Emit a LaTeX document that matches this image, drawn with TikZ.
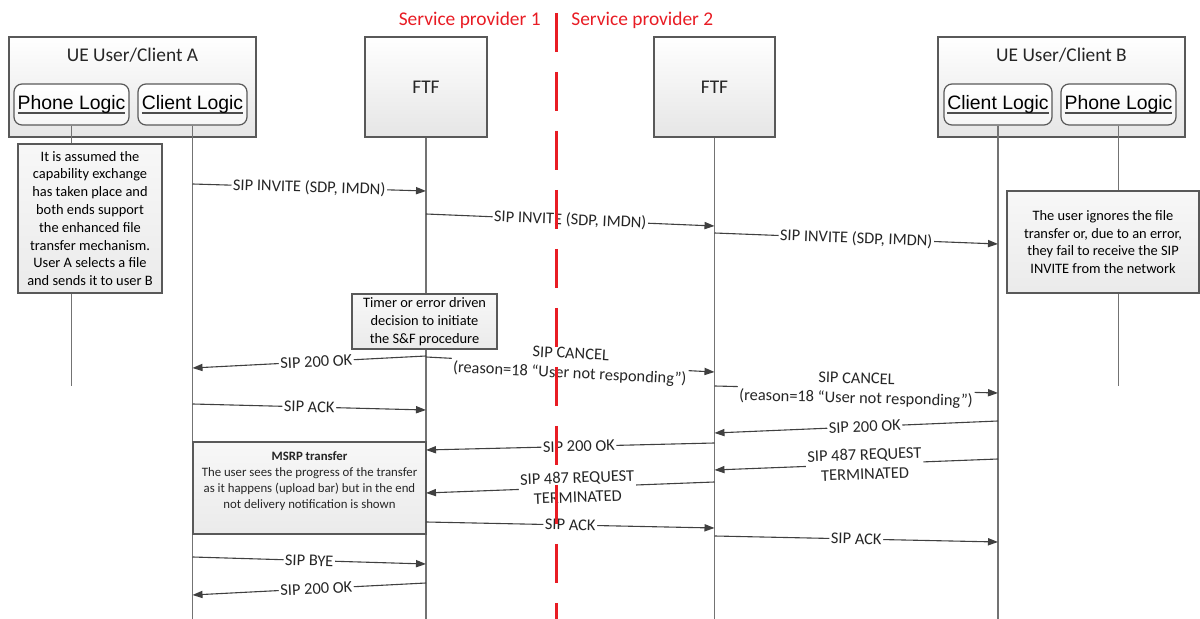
\documentclass[tikz,border=0pt]{standalone}
\usepackage{fontspec}
\setmainfont{Carlito}
\newfontfamily\arialfont{Liberation Sans}
\newsavebox{\logicsave}
\newcommand{\ulogic}[1]{\sbox{\logicsave}{#1}\rlap{\color{black!70}\rule[-2pt]{\wd\logicsave}{0.7pt}}\usebox{\logicsave}}
\usetikzlibrary{arrows.meta, positioning}
\definecolor{sred}{RGB}{232,28,36}

\tikzset{
  hdrbox/.style={draw=black!65, line width=0.7pt, top color=white, bottom color=black!10,
    minimum width=#1, minimum height=50pt, inner sep=0pt},
  logicbox/.style={draw=black!65, line width=0.6pt, rounded corners=4pt, top color=white,
    bottom color=black!4, minimum width=#1, minimum height=20.5pt, inner sep=0pt,
    font=\arialfont\fontsize{9.7}{11}\selectfont},
  notebox/.style={draw=black!65, line width=0.6pt, top color=black!3, bottom color=black!8,
    align=center, inner sep=0pt, font=\fontsize{7.2}{8.9}\selectfont},
  title/.style={font=\fontsize{9.7}{11}\selectfont, text=black!85},
  life/.style={draw=black!55, line width=0.6pt},
  msg/.style={draw=black!75, line width=0.55pt, -{Triangle[length=5pt,width=3.6pt]}},
  lbl/.style={fill=white, sloped, inner sep=0.8pt, align=center, text=black!85,
    font=\fontsize{8.2}{9.8}\selectfont},
  provider/.style={text=sred, inner sep=0pt, font=\fontsize{9.7}{11}\selectfont}
}

\begin{document}
\begin{tikzpicture}[x=0.5pt, y=-0.5pt]
\useasboundingbox (0,0) rectangle (1200,619);

% lifelines
\coordinate (bottom) at (0,619);
\coordinate (stopph) at (0,386);

\node[hdrbox=123.5pt] (boxA) at (132.5,87) {};
\node[title] (titleA) at (132.5,55) {UE User/Client A};
\node[logicbox=57.5pt] (phA) at (71.5,104.5) {\ulogic{Phone Logic}};
\node[logicbox=54.5pt] (clA) at (192.5,104.5) {\ulogic{Client Logic}};

\node[hdrbox=61pt, title] (ftf1) at (426,87) {FTF};
\node[hdrbox=60.5pt, title] (ftf2) at (714.5,87) {FTF};

\node[hdrbox=123.5pt] (boxB) at (1061.5,87) {};
\node[title] (titleB) at (1061.5,55) {UE User/Client B};
\node[logicbox=54pt] (clB) at (998,104.5) {\ulogic{Client Logic}};
\node[logicbox=57.5pt] (phB) at (1118.5,104.5) {\ulogic{Phone Logic}};

\draw[life] (phA) -- (phA |- stopph);
\draw[life] (clA) -- (clA |- bottom);
\draw[life] (ftf1) -- (ftf1 |- bottom);
\draw[life] (ftf2) -- (ftf2 |- bottom);
\draw[life] (clB) -- (clB |- bottom);
\draw[life] (phB) -- (phB |- stopph);

% notes
\node[notebox, minimum width=72pt, minimum height=74.5pt] (noteA) at (90,218.5)
  {It is assumed the\\capability exchange\\has taken place and\\both ends support\\the enhanced file\\transfer mechanism.\\User A selects a file\\and sends it to user B};
\node[notebox, minimum width=96pt, minimum height=51pt] (noteB) at (1103,242)
  {The user ignores the file\\transfer or, due to an error,\\they fail to receive the SIP\\INVITE from the network};
\node[notebox, minimum width=116.5pt, minimum height=46pt] (msrp) at (309.5,488) {};
\node[align=center, font=\fontsize{6.4}{8}\selectfont, text=black!85] (msrptext) at (309.5,481)
  {\textbf{MSRP transfer}\\The user sees the progress of the transfer\\as it happens (upload bar) but in the end\\not delivery notification is shown};

% messages
\draw[msg] (clA |- 0,184) -- node[lbl]{SIP INVITE (SDP, IMDN)} (ftf1 |- 0,191);
\draw[msg] (ftf1 |- 0,214) -- node[lbl]{SIP INVITE (SDP, IMDN)} (ftf2 |- 0,226);
\draw[msg] (ftf2 |- 0,233) -- node[lbl]{SIP INVITE (SDP, IMDN)} (clB |- 0,244);
\draw[msg] (ftf1 |- 0,356) -- node[lbl, pos=0.47]{SIP 200 OK} (clA |- 0,368);
\draw[msg] (ftf1 |- 0,357) -- node[lbl]{SIP CANCEL\\(reason=18 “User not responding”)} (ftf2 |- 0,372);
\draw[msg] (ftf2 |- 0,386) -- node[lbl]{SIP CANCEL\\(reason=18 “User not responding”)} (clB |- 0,393);
\draw[msg] (clA |- 0,404) -- node[lbl]{SIP ACK} (ftf1 |- 0,410);
\draw[msg] (clB |- 0,421) -- node[lbl, pos=0.47]{SIP 200 OK} (ftf2 |- 0,433);
\draw[msg] (ftf2 |- 0,443) -- node[lbl, pos=0.47]{SIP 200 OK} (ftf1 |- 0,450);
\draw[msg] (clB |- 0,459) -- node[lbl, pos=0.47]{SIP 487 REQUEST\\TERMINATED} (ftf2 |- 0,470);
\draw[msg] (ftf2 |- 0,482) -- node[lbl, pos=0.475]{SIP 487 REQUEST\\TERMINATED} (ftf1 |- 0,493);
\draw[msg] (ftf1 |- 0,522) -- node[lbl]{SIP ACK} (ftf2 |- 0,528);
\draw[msg] (ftf2 |- 0,536) -- node[lbl]{SIP ACK} (clB |- 0,542);
\draw[msg] (clA |- 0,557) -- node[lbl]{SIP BYE} (ftf1 |- 0,564);
\draw[msg] (ftf1 |- 0,583) -- node[lbl, pos=0.47]{SIP 200 OK} (clA |- 0,595);

\node[notebox, minimum width=72.5pt, minimum height=27.5pt] (timer) at (424.5,321.5)
  {Timer or error driven\\decision to initiate\\the S\&F procedure};

% provider border
\coordinate (sptop) at (556,13);
\draw[sred, line width=1.5pt, dash pattern=on 19.5pt off 10pt] (sptop) -- (sptop |- bottom);
\node[provider, anchor=east] (sp1) at (541,20) {Service provider 1};
\node[provider, anchor=west] (sp2) at (571,20) {Service provider 2};
\end{tikzpicture}
\end{document}
